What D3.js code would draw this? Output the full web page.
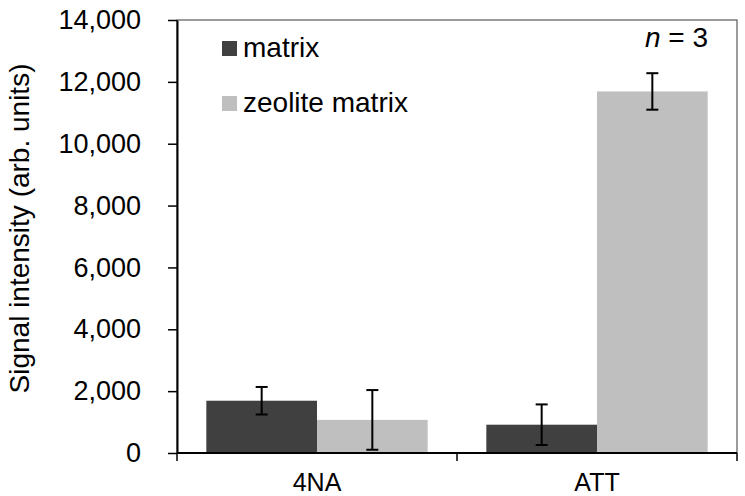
<!DOCTYPE html>
<html>
<head>
<meta charset="utf-8">
<script src="https://cdn.jsdelivr.net/npm/d3@7"></script>
<style>
  html, body { margin: 0; padding: 0; background: #fff; }
  svg { display: block; font-family: "Liberation Sans", Arial, sans-serif; }
</style>
</head>
<body>
<svg id="chart" width="745" height="496"></svg>
<script>
const categories = ["4NA", "ATT"];
const seriesNames = ["matrix", "zeolite matrix"];
const matrixValues = [1690, 915];
const matrixErrors = [445, 656];
const zeoliteValues = [1070, 11690];
const zeoliteErrors = [965, 590];
const yTicks = [0, 2000, 4000, 6000, 8000, 10000, 12000, 14000];
const colors = ["#404040", "#bfbfbf"];

const series = [
  { name: seriesNames[0], values: matrixValues, errors: matrixErrors, color: colors[0] },
  { name: seriesNames[1], values: zeoliteValues, errors: zeoliteErrors, color: colors[1] }
];

const FS = 27;
const svg = d3.select("#chart");
const pL = 177, pR = 737, pT = 20, pB = 453;

const x = d3.scaleBand().domain(categories).range([pL, pR]).padding(0);
const xi = d3.scaleBand().domain(seriesNames).range([0, x.bandwidth()]).paddingInner(0).paddingOuter(0.265);
const y = d3.scaleLinear().domain([0, 14000]).range([pB, pT]);

// plot frame
svg.append("rect")
  .attr("x", pL).attr("y", pT)
  .attr("width", pR - pL).attr("height", pB - pT)
  .attr("fill", "none").attr("stroke", "#595959").attr("stroke-width", 1.2);

// bars
series.forEach(s => {
  svg.append("g").selectAll("rect").data(categories).join("rect")
    .attr("x", (c) => x(c) + xi(s.name))
    .attr("width", xi.bandwidth())
    .attr("y", (c, i) => y(s.values[i]))
    .attr("height", (c, i) => y(0) - y(s.values[i]))
    .attr("fill", s.color);
});

// error bars
series.forEach(s => {
  const g = svg.append("g").attr("stroke", "#000").attr("stroke-width", 2);
  categories.forEach((c, i) => {
    const cx = x(c) + xi(s.name) + xi.bandwidth() / 2;
    const hi = y(s.values[i] + s.errors[i]);
    const lo = y(s.values[i] - s.errors[i]);
    g.append("line").attr("x1", cx).attr("x2", cx).attr("y1", hi).attr("y2", lo);
    g.append("line").attr("x1", cx - 6).attr("x2", cx + 6).attr("y1", hi).attr("y2", hi);
    g.append("line").attr("x1", cx - 6).attr("x2", cx + 6).attr("y1", lo).attr("y2", lo);
  });
});

// y axis
const yAxis = svg.append("g")
  .attr("transform", `translate(${pL},0)`)
  .call(d3.axisLeft(y).tickValues(yTicks).tickFormat(d3.format(",")).tickSize(9).tickSizeOuter(0).tickPadding(27));
yAxis.select(".domain").attr("stroke", "#000").attr("stroke-width", 2);
yAxis.selectAll(".tick line").attr("stroke", "#000").attr("stroke-width", 1.5);
yAxis.selectAll(".tick text").attr("font-size", FS).attr("fill", "#000")
  .attr("font-family", "'Liberation Sans', Arial, sans-serif");

// x axis
const xg = svg.append("g");
xg.append("line").attr("x1", pL).attr("x2", pR).attr("y1", pB).attr("y2", pB)
  .attr("stroke", "#000").attr("stroke-width", 2);
const edges = categories.map(c => x(c)).concat([x(categories[categories.length - 1]) + x.bandwidth()]);
xg.selectAll("line.tk").data(edges).join("line").attr("class", "tk")
  .attr("x1", d => d).attr("x2", d => d).attr("y1", pB).attr("y2", pB + 8)
  .attr("stroke", "#000").attr("stroke-width", 1.5);
xg.selectAll("text").data(categories).join("text")
  .attr("x", c => x(c) + x.bandwidth() / 2).attr("y", 491)
  .attr("text-anchor", "middle").attr("font-size", 25).attr("fill", "#000")
  .text(c => c);

// y label
svg.append("text")
  .attr("transform", `translate(29,${(pT + pB) / 2 - 8}) rotate(-90)`)
  .attr("text-anchor", "middle").attr("font-size", 28).attr("fill", "#000")
  .text("Signal intensity (arb. units)");

// legend
const lg = svg.append("g");
series.forEach((s, i) => {
  const ly = 57 + i * 55;
  lg.append("rect").attr("x", 222).attr("y", ly - 16).attr("width", 15).attr("height", 15).attr("fill", s.color);
  lg.append("text").attr("x", 243).attr("y", ly).attr("font-size", 28).attr("fill", "#000").text(s.name);
});

// n = 3
const nt = svg.append("text").attr("x", 708).attr("y", 47).attr("text-anchor", "end")
  .attr("font-size", 28).attr("fill", "#000");
nt.append("tspan").attr("font-style", "italic").text("n");
nt.append("tspan").text(" = 3");
</script>
</body>
</html>
